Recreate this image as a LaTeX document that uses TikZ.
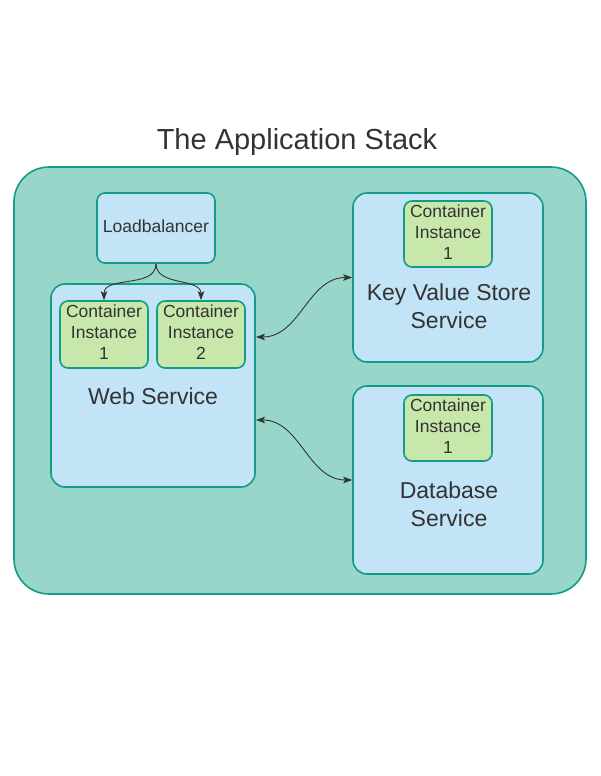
\documentclass[tikz,border=0pt]{standalone}
\usepackage{fontspec}
\setmainfont{Liberation Sans}
\usetikzlibrary{arrows.meta}
\definecolor{stackfill}{HTML}{98D6CA}
\definecolor{stackline}{HTML}{129C85}
\definecolor{svcfill}{HTML}{C2E4F6}
\definecolor{cifill}{HTML}{C8E7AB}
\definecolor{ink}{HTML}{333333}
\tikzset{
  stack/.style={draw=stackline,fill=stackfill,line width=1.6pt,rounded corners=35pt,minimum width=572pt,minimum height=427pt},
  svc/.style={draw=stackline,fill=svcfill,line width=1.6pt,rounded corners=14pt,text=ink},
  cibox/.style={draw=stackline,fill=cifill,line width=1.6pt,rounded corners=8pt,minimum width=88pt,minimum height=67pt,text=ink,align=center,font=\fontsize{17.5}{21}\selectfont},
  citxt/.style={text=ink,align=center,font=\fontsize{17.5}{21}\selectfont},
  svctxt/.style={text=ink,align=center,font=\fontsize{23}{28}\selectfont},
  link/.style={draw=ink,line width=0.9pt,{Stealth[length=9pt,width=6.5pt,inset=2pt]}-{Stealth[length=9pt,width=6.5pt,inset=2pt]}},
  feed/.style={draw=ink,line width=0.9pt,-{Stealth[length=9pt,width=6.5pt,inset=2pt]}}
}
\begin{document}
\begin{tikzpicture}[x=1pt,y=-1pt]
	\useasboundingbox(0,0)rectangle(600,776);
	\node[text=ink,font=\fontsize{29}{35}\selectfont](title)at(297,142){The Application Stack};
	\node[stack](stack)at(300,380.5){};
	% left side
	\node[svc,rounded corners=8pt,minimum width=118pt,minimum height=70pt](lb)at(156,228){};
	\node[citxt](lbtxt)at(156,226){Loadbalancer};
	\node[svc,minimum width=204pt,minimum height=203pt](web)at(153,385.5){};
	\node[cibox](ci1)at(104,334.5){};
	\node[citxt](ci1txt)at(104,332.5){Container\\Instance\\1};
	\node[cibox](ci2)at(201,334.5){};
	\node[citxt](ci2txt)at(201,332.5){Container\\Instance\\2};
	\node[svctxt](webtxt)at(153,396){Web Service};
	% right side
	\node[svc,minimum width=190pt,minimum height=169pt](kv)at(448,277.5){};
	\node[cibox,minimum height=66pt](kvci)at(448,234){};
	\node[citxt](kvcitxt)at(448,232){Container\\Instance\\1};
	\node[svctxt](kvtxt)at(449,306.5){Key Value Store\\Service};
	\node[svc,minimum width=190pt,minimum height=188pt](db)at(448,480){};
	\node[cibox,minimum height=66pt](dbci)at(448,428){};
	\node[citxt](dbcitxt)at(448,426){Container\\Instance\\1};
	\node[svctxt](dbtxt)at(449,504.5){Database\\Service};
	\coordinate(webup)at(256,337);
	\coordinate(webdown)at(256,420);
	\draw[feed](lb.south)to[out=-90,in=90](ci1.north);
	\draw[feed](lb.south)to[out=-90,in=90](ci2.north);
	\draw[link](webup)to[out=0,in=180](kv.west);
	\draw[link](webdown)to[out=0,in=180](db.west);
\end{tikzpicture}
\end{document}
